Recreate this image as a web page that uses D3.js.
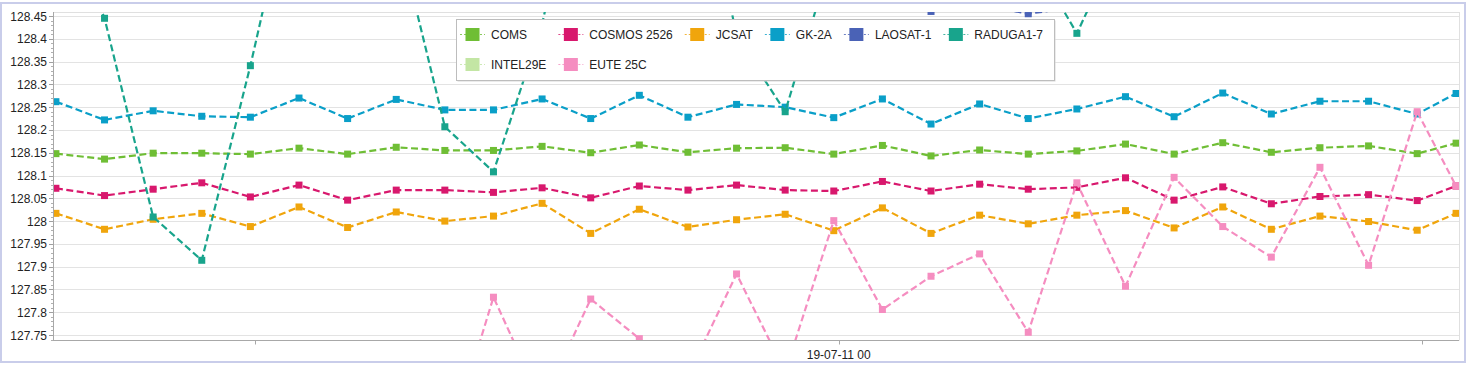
<!DOCTYPE html>
<html><head><meta charset="utf-8">
<script src="https://cdn.jsdelivr.net/npm/d3@7"></script>
<style>
body{margin:0;background:#fff}
text{font-family:"Liberation Sans",Arial,sans-serif;fill:#222}
</style>
</head><body><svg id="c" width="1467" height="368"></svg>
<script>
// ---------- data ----------
const times = [
 "2019-07-10 07:54","2019-07-10 08:54","2019-07-10 09:54","2019-07-10 10:54","2019-07-10 11:54",
 "2019-07-10 12:54","2019-07-10 13:54","2019-07-10 14:54","2019-07-10 15:54","2019-07-10 16:54",
 "2019-07-10 17:54","2019-07-10 18:54","2019-07-10 19:54","2019-07-10 20:54","2019-07-10 21:54",
 "2019-07-10 22:54","2019-07-10 23:54","2019-07-11 00:54","2019-07-11 01:54","2019-07-11 02:54",
 "2019-07-11 03:54","2019-07-11 04:54","2019-07-11 05:54","2019-07-11 06:54","2019-07-11 07:54",
 "2019-07-11 08:54","2019-07-11 09:54","2019-07-11 10:54","2019-07-11 11:54","2019-07-11 12:42"];

const seriesNames = ["COMS","COSMOS 2526","JCSAT","GK-2A","LAOSAT-1","RADUGA1-7","INTEL29E","EUTE 25C"];
const seriesColors = ["#6fbe35","#d8186d","#f0a50c","#0a9fc8","#4a62b6","#18a48c","#c3e6a4","#f58dc0"];

const coms = [128.148,128.136,128.149,128.149,128.147,128.160,128.147,128.162,128.155,128.155,
              128.164,128.150,128.167,128.151,128.160,128.161,128.147,128.166,128.143,128.156,
              128.147,128.154,128.169,128.147,128.172,128.151,128.161,128.165,128.148,128.171];
const cosmos2526 = [128.072,128.056,128.070,128.084,128.053,128.079,128.046,128.068,128.068,128.063,
              128.073,128.051,128.077,128.068,128.079,128.068,128.066,128.087,128.066,128.081,
              128.070,128.074,128.095,128.046,128.075,128.038,128.054,128.058,128.045,128.077];
const jcsat = [128.017,127.982,128.004,128.017,127.988,128.031,127.986,128.020,128.000,128.011,
              128.039,127.973,128.026,127.987,128.003,128.015,127.979,128.029,127.973,128.013,
              127.994,128.013,128.023,127.985,128.031,127.982,128.011,127.999,127.980,128.017];
const gk2a = [128.262,128.222,128.242,128.230,128.228,128.270,128.225,128.267,128.244,128.244,
              128.268,128.225,128.276,128.228,128.256,128.250,128.227,128.268,128.213,128.257,
              128.225,128.246,128.273,128.229,128.281,128.235,128.263,128.263,128.235,128.280];
const laosat1 = [128.50,128.51,128.50,128.52,128.51,128.50,128.49,128.51,128.50,128.52,
              128.51,128.50,128.49,128.50,128.51,128.50,128.49,128.48,128.46,128.475,
              128.455,128.47,128.49,128.50,128.51,128.50,128.49,128.50,128.51,128.50];
const raduga17 = [128.711,128.445,128.009,127.914,128.341,128.81,128.78,128.644,128.207,128.108,
              128.432,128.915,128.95,128.948,128.405,128.240,128.595,128.70,128.72,128.70,
              128.594,128.412,128.64,128.72,128.75,128.70,128.72,128.74,128.70,128.72];
const intel29e = [null,null,null,null,null,null,null,null,null,null,
              null,null,null,null,null,null,null,null,null,null,
              null,null,null,null,null,null,null,null,null,null];
const eute25c = [null,null,null,null,null,null,null,null,127.484,127.833,
              127.600,127.829,127.742,127.660,127.884,127.669,128.001,127.806,127.879,127.928,
              127.756,128.084,127.857,128.096,127.988,127.921,128.118,127.903,128.240,128.077];

const seriesValues = [coms,cosmos2526,jcsat,gk2a,laosat1,raduga17,intel29e,eute25c];
const yTickValues = [127.75,127.8,127.85,127.9,127.95,128,128.05,128.1,128.15,128.2,128.25,128.3,128.35,128.4,128.45];
const yDomain = [127.738,128.4588];

// ---------- layout ----------
const W = 1467, H = 368;
const plot = {left:53, right:1459, top:12, bottom:340.5};
const parse = d3.timeParse("%Y-%m-%d %H:%M");
const dates = times.map(parse);
const pad = 3.6*60*1000;
const x = d3.scaleTime()
  .domain([new Date(dates[0].getTime()-pad), new Date(dates[dates.length-1].getTime()+pad)])
  .range([plot.left, plot.right]);
const y = d3.scaleLinear().domain(yDomain).range([plot.bottom, plot.top]);

const svg = d3.select("#c");

// outer frame
svg.append("rect").attr("x",1).attr("y",3).attr("width",W-3).attr("height",359)
  .attr("fill","#fff").attr("stroke","#c9cdea").attr("stroke-width",2);

// grid
svg.append("g").selectAll("line").data(yTickValues).join("line")
  .attr("x1",plot.left).attr("x2",plot.right)
  .attr("y1",d=>Math.round(y(d))+0.5).attr("y2",d=>Math.round(y(d))+0.5)
  .attr("stroke","#e3e3e3").attr("stroke-width",1);
svg.append("line").attr("x1",plot.left).attr("x2",plot.right).attr("y1",plot.top+0.5).attr("y2",plot.top+0.5)
  .attr("stroke","#e0e0e0");
svg.append("line").attr("x1",plot.right+0.5).attr("x2",plot.right+0.5).attr("y1",plot.top).attr("y2",plot.bottom)
  .attr("stroke","#e0e0e0");

// clip
svg.append("defs").append("clipPath").attr("id","pc").append("rect")
  .attr("x",plot.left).attr("y",plot.top).attr("width",plot.right-plot.left).attr("height",plot.bottom-plot.top);

const gPlot = svg.append("g").attr("clip-path","url(#pc)");
const line = d3.line().defined(d=>d.v!=null).x(d=>x(d.t)).y(d=>y(d.v));
seriesNames.forEach((name,si)=>{
  const pts = seriesValues[si].map((v,i)=>({t:dates[i],v:v}));
  const g = gPlot.append("g");
  g.append("path").datum(pts).attr("d",line).attr("fill","none")
    .attr("stroke",seriesColors[si]).attr("stroke-width",2.2).attr("stroke-dasharray","7,3.5");
  g.selectAll("rect").data(pts.filter(d=>d.v!=null)).join("rect")
    .attr("x",d=>x(d.t)-3.5).attr("y",d=>y(d.v)-3.5).attr("width",7).attr("height",7)
    .attr("fill",seriesColors[si]);
});

// y axis
const gy = svg.append("g");
gy.append("line").attr("x1",plot.left+0.5).attr("x2",plot.left+0.5).attr("y1",plot.top).attr("y2",plot.bottom)
  .attr("stroke","#a8a8a8");
const minor = d3.range(0,80).map(k=>127.74+k*0.01).filter(v=>v>=yDomain[0]&&v<=yDomain[1]);
gy.selectAll("line.mn").data(minor).join("line").attr("class","mn")
  .attr("x1",plot.left-2).attr("x2",plot.left)
  .attr("y1",d=>Math.round(y(d))+0.5).attr("y2",d=>Math.round(y(d))+0.5).attr("stroke","#b0b0b0");
gy.selectAll("line.mj").data(yTickValues).join("line").attr("class","mj")
  .attr("x1",plot.left-4).attr("x2",plot.left)
  .attr("y1",d=>Math.round(y(d))+0.5).attr("y2",d=>Math.round(y(d))+0.5).attr("stroke","#a0a0a0");
const fmt = d3.format("~f");
gy.selectAll("text").data(yTickValues).join("text")
  .attr("x",plot.left-6).attr("y",d=>y(d)+4.5).attr("text-anchor","end")
  .attr("font-size",12).text(d=>fmt(d));

// x axis
const gx = svg.append("g");
gx.append("line").attr("x1",plot.left).attr("x2",plot.right).attr("y1",plot.bottom).attr("y2",plot.bottom)
  .attr("stroke","#a8a8a8");
const xt = x.ticks(d3.timeHour.every(12));
gx.selectAll("line.t").data(xt).join("line").attr("class","t")
  .attr("x1",d=>Math.round(x(d))+0.5).attr("x2",d=>Math.round(x(d))+0.5)
  .attr("y1",plot.bottom).attr("y2",plot.bottom+4).attr("stroke","#a8a8a8");
const xfmt = d3.timeFormat("%y-%m-%d %H");
gx.selectAll("text").data(xt.filter(d=>d.getHours()===0)).join("text")
  .attr("x",d=>x(d)).attr("y",359).attr("text-anchor","middle").attr("font-size",12)
  .text(d=>xfmt(d));

// legend
const lg = svg.append("g");
const box = {x:456,y:19,w:598,h:61};
lg.append("rect").attr("x",box.x+1.5).attr("y",box.y+1.5).attr("width",box.w).attr("height",box.h)
  .attr("fill","#d8d8d8");
lg.append("rect").attr("x",box.x+0.5).attr("y",box.y+0.5).attr("width",box.w).attr("height",box.h)
  .attr("fill","#fff").attr("stroke","#bdbdbd");
const cols = 6, rowY = [34,64];
const items = seriesNames.map((n,i)=>({name:n,color:seriesColors[i],col:i%cols,row:Math.floor(i/cols)}));
const ig = lg.selectAll("g.it").data(items).join("g").attr("class","it");
ig.append("text").attr("font-size",12).attr("y",d=>rowY[d.row]+4.5).text(d=>d.name);
const colW = d3.range(cols).map(c=>0);
ig.each(function(d){ const w=d3.select(this).select("text").node().getComputedTextLength(); colW[d.col]=Math.max(colW[d.col],w); });
const colX = [460];
for(let c=1;c<cols;c++) colX.push(colX[c-1]+31+colW[c-1]+12);
ig.attr("transform",d=>`translate(${colX[d.col]},0)`);
ig.select("text").attr("x",31);
ig.insert("line","text").attr("x1",0).attr("x2",25).attr("y1",d=>rowY[d.row]+0.5).attr("y2",d=>rowY[d.row]+0.5)
  .attr("stroke",d=>d.color).attr("stroke-width",1).attr("stroke-dasharray","2,2").attr("opacity",0.8);
ig.insert("rect","text").attr("x",5.5).attr("y",d=>rowY[d.row]-6).attr("width",14).attr("height",13)
  .attr("fill",d=>d.color);
</script></body></html>
